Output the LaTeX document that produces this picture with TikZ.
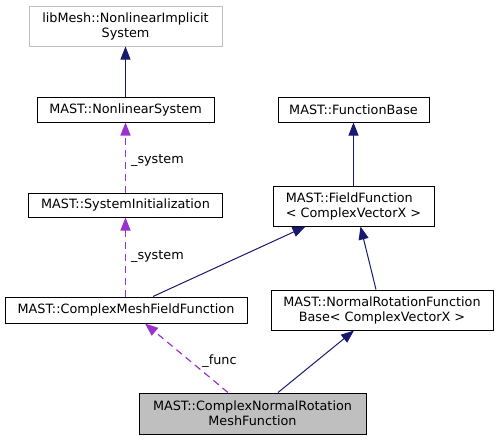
\documentclass[tikz,border=0pt]{standalone}
\usepackage{fontspec}
\setmainfont{DejaVu Sans}
\usetikzlibrary{arrows.meta}
\definecolor{navy}{HTML}{191970}
\definecolor{dpurple}{HTML}{9A32CD}
\definecolor{lgray}{HTML}{BFBFBF}
\begin{document}
\begin{tikzpicture}[x=1pt,y=-1pt,
  box/.style={draw=black, line width=1pt, inner sep=0pt, font=\fontsize{12.8}{15}\selectfont, align=center},
  inh/.style={draw=navy, line width=1pt, -{Triangle[length=13pt,width=10pt]}},
  usage/.style={draw=dpurple, line width=1.2pt, dash pattern=on 7pt off 5pt, -{Triangle[length=13pt,width=10pt]}},
  elabel/.style={font=\fontsize{12.8}{15}\selectfont, inner sep=0pt, anchor=west}]
\useasboundingbox (0,0) rectangle (498,440);
\node[box, draw=lgray, minimum width=193pt, minimum height=40pt] (lib) at (125.5,26) {libMesh::NonlinearImplicit\\System};
\node[box, minimum width=177pt, minimum height=25pt] (ns) at (125.5,109.5) {MAST::NonlinearSystem};
\node[box, minimum width=194pt, minimum height=24pt] (si) at (125.5,205) {MAST::SystemInitialization};
\node[box, minimum width=151pt, minimum height=25pt] (fb) at (353.5,109.5) {MAST::FunctionBase};
\node[box, align=left, minimum width=161pt, minimum height=40pt] (ff) at (353.5,206) {MAST::FieldFunction\\< ComplexVectorX >};
\node[box, minimum width=222pt, minimum height=40pt] (nr) at (382,310) {MAST::NormalRotationFunction\\Base< ComplexVectorX >};
\node[box, minimum width=242pt, minimum height=26pt] (cm) at (126,310) {MAST::ComplexMeshFieldFunction};
\node[box, fill=lgray, minimum width=227pt, minimum height=41pt] (cn) at (252.5,413.5) {MAST::ComplexNormalRotation\\MeshFunction};
\draw[inh] (ns.north) -- (lib.south);
\draw[usage] (si.north) -- node[elabel, pos=0.45, xshift=5pt] {\_system} (ns.south);
\draw[usage] ([xshift=-0.5pt]cm.north) -- node[elabel, pos=0.5, xshift=5pt] {\_system} (si.south);
\draw[inh] (ff.north) -- (fb.south);
\draw[inh] ([xshift=27pt]cm.north) -- ([xshift=-48pt]ff.south);
\draw[inh] ([xshift=-6pt]nr.north) -- ([xshift=7pt]ff.south);
\draw[inh] ([xshift=25.5pt]cn.north) -- ([xshift=-28pt]nr.south);
\draw[usage] ([xshift=-24.5pt]cn.north) -- node[elabel, pos=0.46, xshift=12pt] {\_func} ([xshift=19pt]cm.south);
\end{tikzpicture}
\end{document}
